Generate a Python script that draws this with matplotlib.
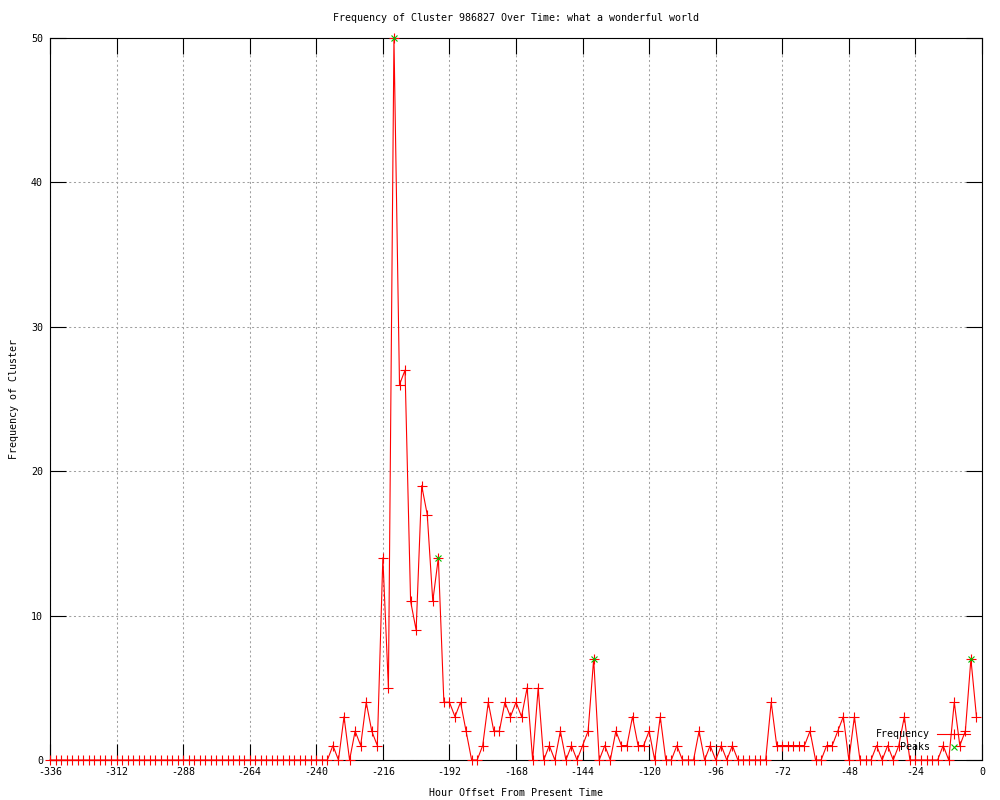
import numpy as np
import matplotlib
matplotlib.use("Agg")
import matplotlib.pyplot as plt

plt.rcParams['font.family'] = ['DejaVu Sans Mono']
plt.rcParams['font.size'] = 7.2
plt.rcParams['axes.unicode_minus'] = False

# hourly counts every 2 hours, from -336 up to -2
hours = np.arange(-336, 0, 2)
freq = [
    0, 0, 0, 0, 0, 0, 0, 0, 0, 0, 0, 0,      # -336 .. -314
    0, 0, 0, 0, 0, 0, 0, 0, 0, 0, 0, 0,      # -312 .. -290
    0, 0, 0, 0, 0, 0, 0, 0, 0, 0, 0, 0,      # -288 .. -266
    0, 0, 0, 0, 0, 0, 0, 0, 0, 0, 0, 0,      # -264 .. -242
    0, 0, 0, 1, 0, 3, 0, 2, 1, 4, 2, 1,      # -240 .. -218
    14, 5, 50, 26, 27, 11, 9, 19, 17, 11, 14, 4,  # -216 .. -194
    4, 3, 4, 2, 0, 0, 1, 4, 2, 2, 4, 3,      # -192 .. -170
    4, 3, 5, 0, 5, 0, 1, 0, 2, 0, 1, 0,      # -168 .. -146
    1, 2, 7, 0, 1, 0, 2, 1, 1, 3, 1, 1,      # -144 .. -122
    2, 0, 3, 0, 0, 1, 0, 0, 0, 2, 0, 1,      # -120 .. -98
    0, 1, 0, 1, 0, 0, 0, 0, 0, 0, 4, 1,      # -96 .. -74
    1, 1, 1, 1, 1, 2, 0, 0, 1, 1, 2, 3,      # -72 .. -50
    0, 3, 0, 0, 0, 1, 0, 1, 0, 1, 3, 0,      # -48 .. -26
    0, 0, 0, 0, 0, 1, 0, 4, 1, 2, 7, 3,      # -24 .. -2
]

peak_hours = [-212, -196, -140, -4]
peak_vals = [50, 14, 7, 7]

xticks = np.arange(-336, 1, 24)
yticks = np.arange(0, 51, 10)

fig = plt.figure(figsize=(10, 8), dpi=100)
ax = fig.add_axes([0.05, 0.05, 0.932, 0.9025])

ax.plot(hours, freq, color='red', lw=0.8, marker='+', ms=6.5, mew=0.8,
        clip_on=False, label='Frequency', zorder=3)
ax.plot(peak_hours, peak_vals, color='#00c000', lw=0, marker='x', ms=5,
        mew=0.8, clip_on=False, label='    Peaks', zorder=4)

ax.set_xlim(-336, 0)
ax.set_ylim(0, 50)
ax.set_xticks(xticks)
ax.set_yticks(yticks)
ax.tick_params(direction='in', length=11.5, width=0.8, top=True, right=True,
               colors='black')
ax.tick_params(axis='x', pad=5)
ax.tick_params(axis='y', pad=5)
for s in ax.spines.values():
    s.set_linewidth(0.8)

ax.grid(True, color='#a0a0a0', lw=0.75, ls=(0, (2, 2.5)))
ax.set_axisbelow(True)

ax.set_title('Frequency of Cluster 986827 Over Time: what a wonderful world',
             fontsize=7.2, pad=12)
ax.set_xlabel('Hour Offset From Present Time', labelpad=8)
ax.set_ylabel('Frequency of Cluster', labelpad=8.5)

leg = ax.legend(loc='lower right', bbox_to_anchor=(0.9875, 0.011),
                frameon=False, markerfirst=False, handlelength=3.3,
                handletextpad=0.7, labelspacing=0.3, borderpad=0,
                borderaxespad=0)

fig.savefig('out.png', dpi=100)
